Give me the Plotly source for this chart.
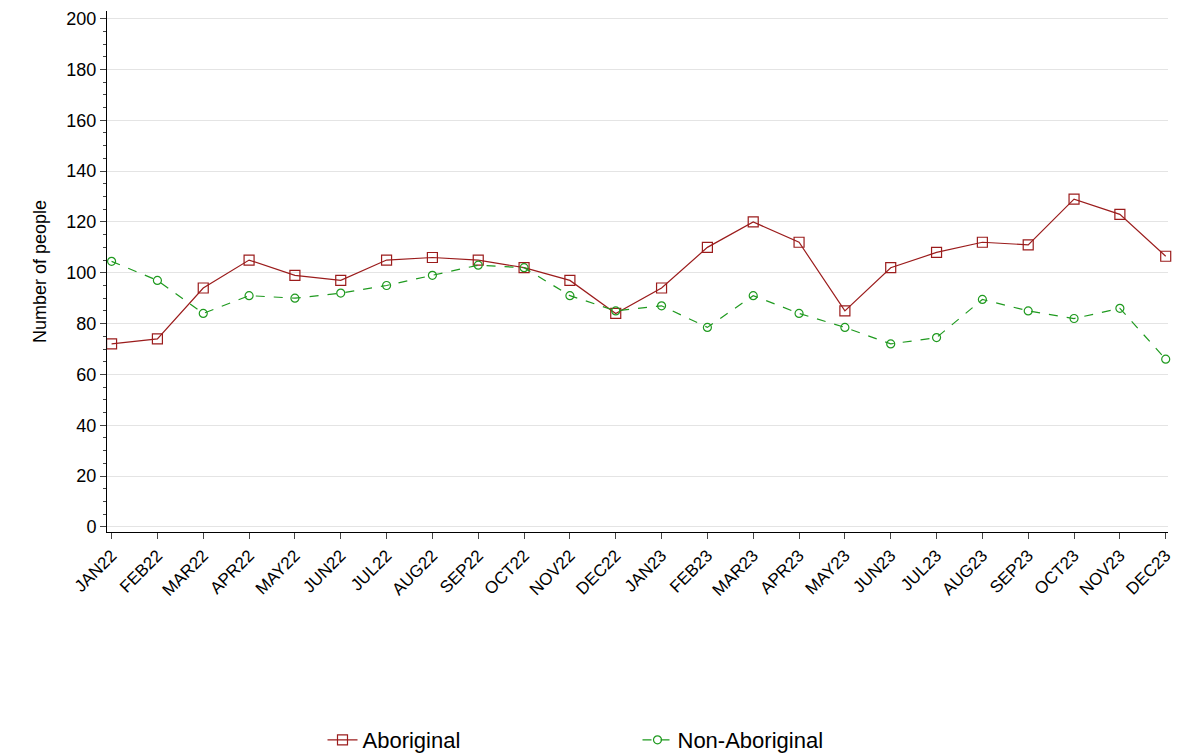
import plotly.graph_objects as go

months = ["JAN22", "FEB22", "MAR22", "APR22", "MAY22", "JUN22", "JUL22", "AUG22", "SEP22", "OCT22", "NOV22", "DEC22",
          "JAN23", "FEB23", "MAR23", "APR23", "MAY23", "JUN23", "JUL23", "AUG23", "SEP23", "OCT23", "NOV23", "DEC23"]
aboriginal = [72, 74, 94, 105, 99, 97, 105, 106, 105, 102, 97, 84,
              94, 110, 120, 112, 85, 102, 108, 112, 111, 129, 123, 106.5]
non_aboriginal = [104.5, 97, 84, 91, 90, 92, 95, 99, 103, 102, 91, 85,
                  87, 78.5, 91, 84, 78.5, 72, 74.5, 89.5, 85, 82, 86, 66]

x = list(range(len(months)))

fig = go.Figure()
fig.add_trace(go.Scatter(
    x=x, y=aboriginal, name="Aboriginal", mode="lines+markers", cliponaxis=False,
    line=dict(color="#9b1c1c", width=1.2),
    marker=dict(symbol="square-open", size=10, color="#9b1c1c", line=dict(width=1.2))))
fig.add_trace(go.Scatter(
    x=x, y=non_aboriginal, name="Non-Aboriginal", mode="lines+markers", cliponaxis=False,
    line=dict(color="#1f9a1f", width=1.2, dash="dash"),
    marker=dict(symbol="circle-open", size=8, color="#1f9a1f", line=dict(width=1.2))))

fig.update_layout(
    width=1182, height=753,
    plot_bgcolor="white", paper_bgcolor="white",
    font=dict(family="Liberation Sans, Arial", size=18, color="black"),
    margin=dict(l=99, r=22, t=3, b=229, autoexpand=False),
    legend=dict(orientation="h", x=0.5, xanchor="center", yref="container", y=0.0, yanchor="bottom",
                font=dict(size=22), entrywidthmode="pixels", entrywidth=270),
    showlegend=True,
)
fig.update_xaxes(
    tickmode="array", tickvals=x, ticktext=months, tickangle=-45,
    range=[-0.1, 23.05], showgrid=False, showline=True, linecolor="black",
    ticks="outside", ticklen=6, zeroline=False, tickfont=dict(size=17))
fig.update_yaxes(
    title_text="Number of people", title_font=dict(size=18),
    range=[-2, 203], dtick=20, showgrid=True, gridcolor="#e4e4e4",
    showline=True, linecolor="black", ticks="outside", ticklen=6, zeroline=False,
    minor=dict(dtick=5, ticks="outside", ticklen=3, showgrid=False), tickfont=dict(size=18))

fig.write_html("out.html")
